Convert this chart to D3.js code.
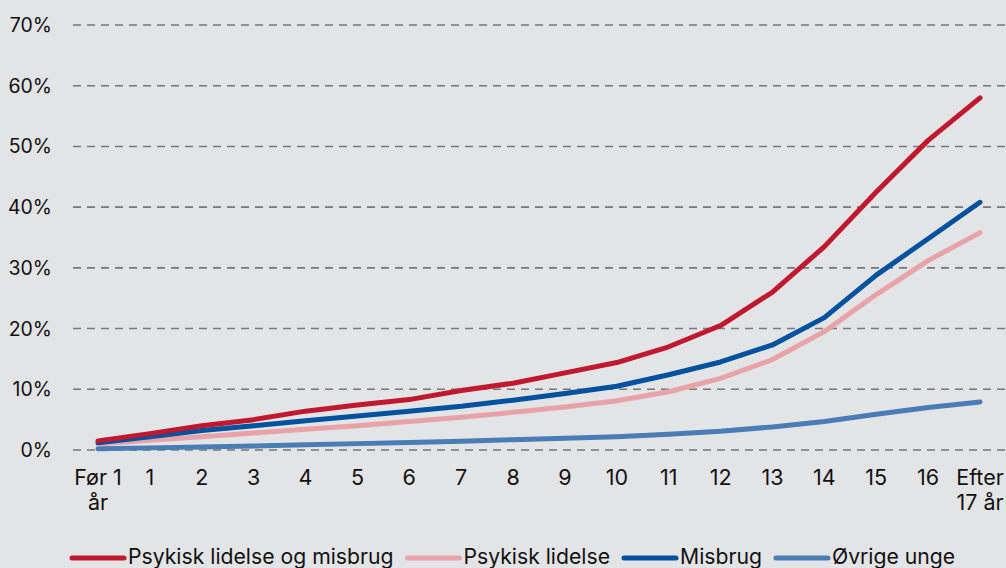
<!DOCTYPE html>
<html><head><meta charset="utf-8">
<script src="https://cdn.jsdelivr.net/npm/d3@7"></script>
<style>
html,body{margin:0;padding:0;background:#e3e4e6;}
svg{display:block;font-family:Inter, "Noto Sans", sans-serif;}
</style></head>
<body><svg id="c" width="1006" height="568"></svg>
<script>
const categories = [["Før 1","år"],["1"],["2"],["3"],["4"],["5"],["6"],["7"],["8"],["9"],["10"],["11"],["12"],["13"],["14"],["15"],["16"],["Efter","17 år"]];
const seriesNames = ["Psykisk lidelse og misbrug","Psykisk lidelse","Misbrug","Øvrige unge"];
const psykMisbrug = [1.5,2.7,4.0,5.0,6.4,7.4,8.3,9.8,11.0,12.7,14.4,17.0,20.5,26.0,33.5,42.5,51.0,58.0];
const psyk = [1.0,1.6,2.2,2.8,3.4,4.0,4.7,5.4,6.2,7.1,8.1,9.6,11.8,14.9,19.5,25.6,31.2,35.8];
const misbrug = [1.2,2.2,3.2,4.0,4.8,5.6,6.4,7.2,8.2,9.3,10.5,12.4,14.5,17.3,21.8,28.8,34.8,40.8];
const ovrige = [0.2,0.35,0.5,0.65,0.85,1.05,1.25,1.45,1.7,1.95,2.2,2.6,3.1,3.8,4.7,5.9,7.0,7.9];
const yTicks = [0,10,20,30,40,50,60,70];
const colors = ["#c0182e","#e8a3a8","#00519e","#4a7db5"];

const svg = d3.select("#c");
const x = d3.scalePoint().domain(d3.range(categories.length)).range([98,980]);
const y = d3.scaleLinear().domain([0,70]).range([450,25]);

// gridlines
svg.append("g").selectAll("line").data(yTicks).join("line")
  .attr("x1",73).attr("x2",1006)
  .attr("y1",d=>y(d)).attr("y2",d=>y(d))
  .attr("stroke","#777").attr("stroke-width",1.6).attr("stroke-dasharray","8,6");

// y labels
svg.append("g").selectAll("text").data(yTicks).join("text")
  .attr("x",52).attr("y",d=>y(d)).attr("dy","0.36em")
  .attr("text-anchor","end").attr("font-size",19.5).attr("fill","#111")
  .text(d=>d+"%");

// x labels
const xl = svg.append("g").selectAll("text").data(categories).join("text")
  .attr("text-anchor","middle").attr("font-size",21.5).attr("fill","#111")
  .attr("transform",(d,i)=>`translate(${x(i)},485)`);
xl.selectAll("tspan").data(d=>d).join("tspan")
  .attr("x",0).attr("dy",(d,i)=>i===0?0:25).text(d=>d);

const data = [psykMisbrug, psyk, misbrug, ovrige];
const line = d3.line().x((d,i)=>x(i)).y(d=>y(d));
[3,1,2,0].forEach(k=>{
  svg.append("path").datum(data[k]).attr("d",line)
    .attr("fill","none").attr("stroke",colors[k]).attr("stroke-width",5)
    .attr("stroke-linecap","round").attr("stroke-linejoin","round");
});

// legend
const lg = svg.append("g");
let cx = 72;
seriesNames.forEach((n,k)=>{
  lg.append("line").attr("x1",cx).attr("x2",cx+52).attr("y1",558).attr("y2",558)
    .attr("stroke",colors[k]).attr("stroke-width",5).attr("stroke-linecap","round");
  const t = lg.append("text").attr("x",cx+56).attr("y",564)
    .attr("font-size",21.2).attr("fill","#111").text(n);
  cx = cx + 56 + t.node().getComputedTextLength() + 14;
});
</script></body></html>
